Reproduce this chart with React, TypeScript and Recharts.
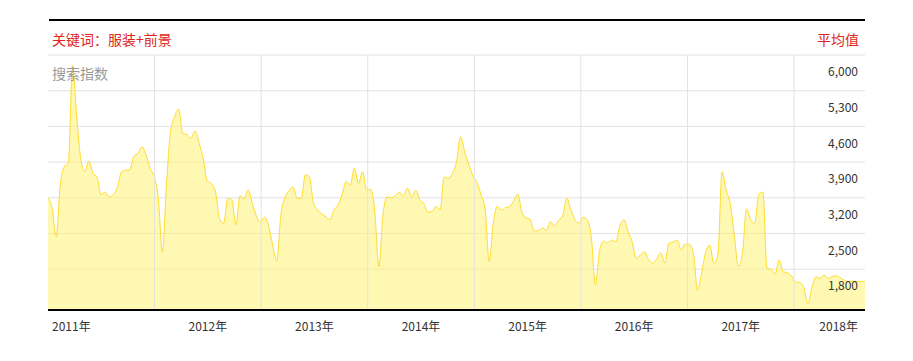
import { AreaChart, Area, XAxis, YAxis, CartesianGrid, ReferenceLine } from "recharts";

// baidu-index style search volume, one point every 14 days from 2011-01-01
const VALUES = [
  3200, 2990, 2440, 3450, 3810, 3895, 5800, 4820, 3970, 3720,
  3920, 3680, 3600, 3260, 3310, 3220, 3260, 3400, 3710, 3740,
  3750, 4010, 4070, 4200, 4040, 3780, 3610, 3190, 2140, 3450,
  4500, 4790, 4940, 4460, 4440, 4370, 4510, 4270, 3970, 3530,
  3480, 3320, 2780, 2700, 3190, 3160, 2670, 3240, 3180, 3350,
  3090, 2850, 2720, 2820, 2650, 2270, 1960, 2860, 3200, 3340,
  3410, 3190, 3190, 3650, 3610, 3090, 2960, 2880, 2830, 2770,
  2960, 3060, 3260, 3520, 3450, 3780, 3480, 3710, 3350, 3370,
  2930, 1850, 2860, 3220, 3200, 3240, 3310, 3240, 3390, 3220,
  3350, 3160, 3090, 2920, 2930, 3030, 2970, 3610, 3580, 3680,
  3900, 4400, 4100, 3860, 3630, 3500, 3260, 2980, 1950, 2700,
  3030, 2960, 3010, 3030, 3140, 3270, 2920, 2810, 2780, 2550,
  2550, 2610, 2570, 2730, 2650, 2760, 2850, 3190, 2960, 2770,
  2700, 2820, 2770, 2440, 1490, 2160, 2350, 2320, 2370, 2340,
  2650, 2770, 2540, 2340, 2010, 2080, 2140, 1990, 1920, 2000,
  2120, 1920, 2310, 2330, 2370, 2180, 2290, 2290, 2110, 1390,
  1720, 2140, 2270, 1920, 2080, 3710, 3350, 3090, 2470, 1850,
  2110, 2980, 2770, 2700, 3270, 3310, 1820, 1800, 1700, 1980,
  1750, 1730, 1670, 1550, 1540, 1440, 1130, 1440, 1650, 1620,
  1690, 1620, 1660, 1670, 1630, 1580, 1560, 1570, 1560, 1560,
  1560,
];
const START_YEAR = 2011;
const STEP_DAYS = 14;

const YEAR_LINES = [2012, 2013, 2014, 2015, 2016, 2017, 2018];
const X_LABELS = ["2011年", "2012年", "2013年", "2014年", "2015年", "2016年", "2017年", "2018年"];
const X_LABEL_MID = [2012.5, 2013.5, 2014.5, 2015.5, 2016.5, 2017.5];
const Y_TICKS = [1800, 2500, 3200, 3900, 4600, 5300, 6000];
const Y_DOMAIN = [1000, 6000];

const data = VALUES.map((v, i) => ({ t: START_YEAR + (i * STEP_DAYS) / 365.25, v }));
const END = data[data.length - 1].t;
const X_TICKS = [START_YEAR, ...X_LABEL_MID, END];

const FONT = '"Noto Sans CJK SC", "Noto Sans", sans-serif';
const RED = "#e1251b";

const XTick = (props: any) => {
  const { x, y, index } = props;
  const last = X_TICKS.length - 1;
  const anchor = index === 0 ? "start" : index === last ? "end" : "middle";
  const dx = index === 0 ? 4 : index === last ? -7 : 0;
  return (
    <text x={x + dx} y={y + 17} dy="0.35em" textAnchor={anchor} fill="#333" fontSize={12} fontFamily={FONT}>
      {X_LABELS[index]}
    </text>
  );
};

// the right axis sits just outside the plot; labels are pulled back inside it
const YTick = (props: any) => {
  const { x, y, payload } = props;
  return (
    <text x={x - 8} y={y + 17} dy="0.35em" textAnchor="end" fill="#333" fontSize={12} fontFamily={FONT}>
      {Number(payload.value).toLocaleString("en-US")}
    </text>
  );
};

export default function App() {
  return (
    <div style={{ position: "absolute", left: 0, top: 0, width: 913, height: 361, background: "#fff", fontFamily: FONT }}>
      <div style={{ position: "absolute", left: 49, top: 19, width: 816, height: 2, background: "#000" }} />
      <div style={{ position: "absolute", left: 52, top: 30, fontSize: 14, lineHeight: "18px", color: RED }}>
        关键词：服装+前景
      </div>
      <div style={{ position: "absolute", right: 54, top: 30, fontSize: 14, lineHeight: "18px", color: RED }}>
        平均值
      </div>

      <AreaChart width={913} height={361} data={data} margin={{ top: 55, right: 8, bottom: 21, left: 48 }}>
        <CartesianGrid stroke="#e2e2e2" vertical={false} />
        {YEAR_LINES.map((yr) => (
          <ReferenceLine key={yr} x={yr} stroke="#e2e2e2" />
        ))}
        <XAxis
          dataKey="t"
          type="number"
          domain={[START_YEAR, END]}
          ticks={X_TICKS}
          interval={0}
          tick={<XTick />}
          tickLine={false}
          tickSize={0}
          tickMargin={0}
          height={30}
          axisLine={{ stroke: "#000", strokeWidth: 2 }}
        />
        <YAxis
          orientation="right"
          width={40}
          type="number"
          domain={Y_DOMAIN}
          ticks={Y_TICKS}
          interval={0}
          tick={<YTick />}
          tickLine={false}
          tickSize={0}
          tickMargin={1}
          axisLine={false}
        />
        <Area
          type="monotone"
          dataKey="v"
          stroke="#ffdc2e"
          strokeWidth={1}
          fill="#fff380"
          fillOpacity={0.6}
          dot={false}
          activeDot={false}
          isAnimationActive={false}
        />
      </AreaChart>

      <div style={{ position: "absolute", left: 52, top: 64, fontSize: 14, lineHeight: "18px", color: "#999" }}>
        搜索指数
      </div>
    </div>
  );
}
